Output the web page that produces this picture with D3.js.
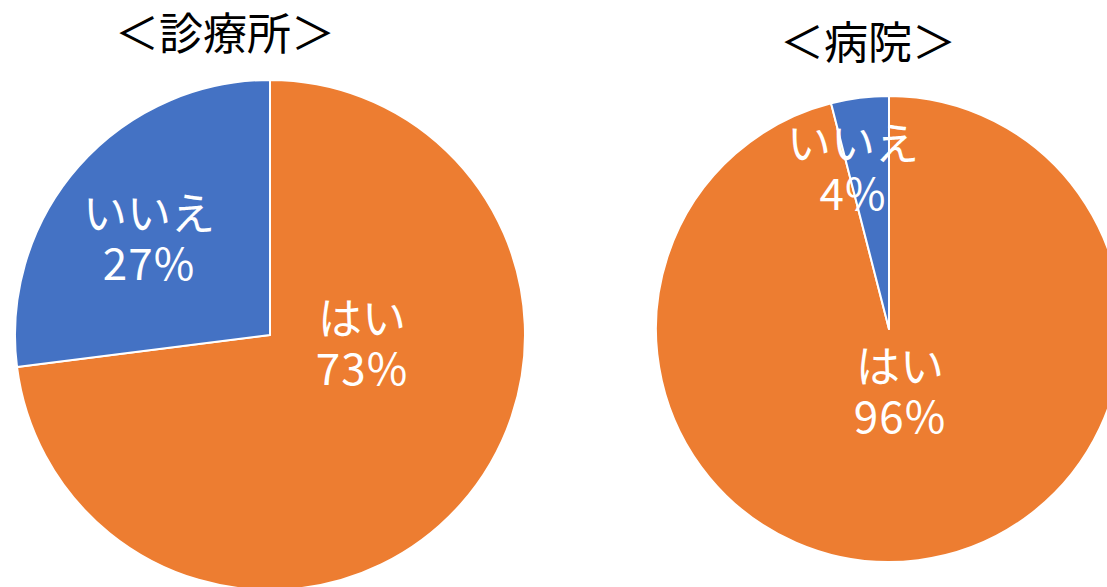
<!DOCTYPE html>
<html><head><meta charset="utf-8">
<script src="https://cdn.jsdelivr.net/npm/d3@7"></script>
<style>body{margin:0;background:#fff;}svg{display:block;}</style>
</head><body>
<svg id="c" width="1107" height="587"></svg>
<script>
const categories = ["はい", "いいえ"];
const clinicValues = [73, 27];
const hospitalValues = [96, 4];
const titles = ["＜診療所＞", "＜病院＞"];
const colors = ["#ED7D31", "#4472C4"];

const svg = d3.select("#c");
const font = "'Noto Sans CJK JP', 'Noto Sans', sans-serif";

const charts = [
  {values: clinicValues, title: titles[0], cx: 270, cy: 335, r: 255, tx: 225, ty: 50,
   labels: [[362, 335], [149, 230]]},
  {values: hospitalValues, title: titles[1], cx: 889, cy: 329, r: 233, tx: 868, ty: 59,
   labels: [[900, 383], [853, 160]]}
];

const pie = d3.pie().sort(null).value(d => d);
const color = d3.scaleOrdinal().domain(categories).range(colors);

charts.forEach(ch => {
  const g = svg.append("g").attr("transform", `translate(${ch.cx},${ch.cy})`);
  const arc = d3.arc().innerRadius(0).outerRadius(ch.r);
  const arcs = pie(ch.values);
  g.selectAll("path").data(arcs).enter().append("path")
    .attr("d", arc)
    .attr("fill", (d, i) => color(categories[i]))
    .attr("stroke", "#fff").attr("stroke-width", 2).attr("stroke-linejoin", "round");
  arcs.forEach((d, i) => {
    const [lx, ly] = ch.labels[i];
    svg.append("text").attr("x", lx).attr("y", ly)
      .attr("text-anchor", "middle").attr("fill", "#fff")
      .attr("font-family", font).attr("font-size", 44).text(categories[i]);
    svg.append("text").attr("x", lx).attr("y", ly + 50)
      .attr("text-anchor", "middle").attr("fill", "#fff")
      .attr("font-family", font).attr("font-size", 44).attr("letter-spacing", 1)
      .text(ch.values[i] + "%");
  });
  svg.append("text").attr("x", ch.tx).attr("y", ch.ty)
    .attr("text-anchor", "middle").attr("fill", "#000")
    .attr("font-family", font).attr("font-size", 44).text(ch.title);
});
</script>
</body></html>
